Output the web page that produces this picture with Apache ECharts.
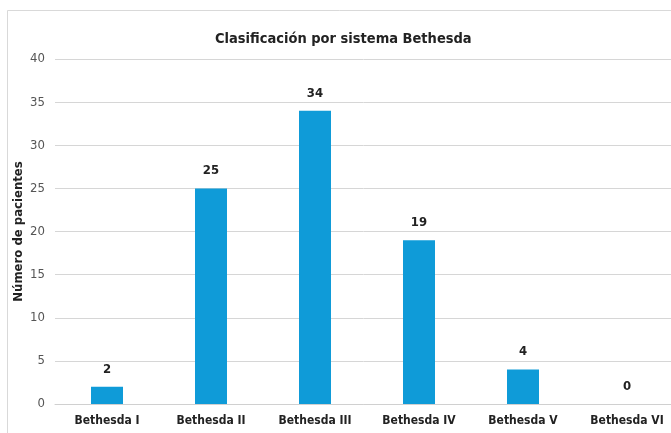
<!DOCTYPE html>
<html>
<head>
<meta charset="utf-8">
<script src="https://cdn.jsdelivr.net/npm/echarts@6/dist/echarts.min.js"></script>
<style>
html,body{margin:0;padding:0;background:#fff;}
#chart{width:671px;height:433px;}
</style>
</head>
<body>
<div id="chart"></div>
<script>
const categories = ['Bethesda I','Bethesda II','Bethesda III','Bethesda IV','Bethesda V','Bethesda VI'];
const pacientes = [2, 25, 34, 19, 4, 0];
const titleText = 'Clasificación por sistema Bethesda';
const yAxisName = 'Número de pacientes';

const font = '"DejaVu Sans Condensed", "Liberation Sans Narrow", sans-serif';
const chart = echarts.init(document.getElementById('chart'));
chart.setOption({
  animation: false,
  backgroundColor: '#fff',
  graphic: [{
    type: 'rect', left: 5, top: 8,
    shape: { width: 700, height: 460 },
    style: { fill: 'none', stroke: '#d9d9d9', lineWidth: 1 },
    z: -1
  }],
  title: {
    text: titleText, left: 210, top: 27,
    textStyle: { fontFamily: font, fontSize: 14.5, fontWeight: 'bold', color: '#222' }
  },
  grid: { left: 55, right: -8, top: 59, bottom: 29, containLabel: false, outerBoundsMode: 'none' },
  xAxis: {
    type: 'category', data: categories,
    axisLine: { lineStyle: { color: '#d0d0d0', width: 1 } },
    axisTick: { show: false },
    axisLabel: { fontFamily: font, fontSize: 12, fontWeight: 'bold', color: '#222', margin: 11 }
  },
  yAxis: {
    type: 'value', min: 0, max: 40, interval: 5,
    name: yAxisName, nameLocation: 'middle', nameGap: 30, nameMoveOverlap: false,
    nameTextStyle: { fontFamily: font, fontSize: 13, fontWeight: 'bold', color: '#222' },
    axisLine: { show: false }, axisTick: { show: false },
    axisLabel: { fontFamily: font, fontSize: 13, color: '#555', margin: 10 },
    splitLine: { lineStyle: { color: '#d6d6d6', width: 1 } }
  },
  series: [{
    type: 'bar', data: pacientes, barWidth: 32,
    itemStyle: { color: '#0f9bd8' },
    label: { show: true, position: 'top', distance: 11, fontFamily: font, fontSize: 13, fontWeight: 'bold', color: '#222' }
  }]
});
</script>
</body>
</html>
